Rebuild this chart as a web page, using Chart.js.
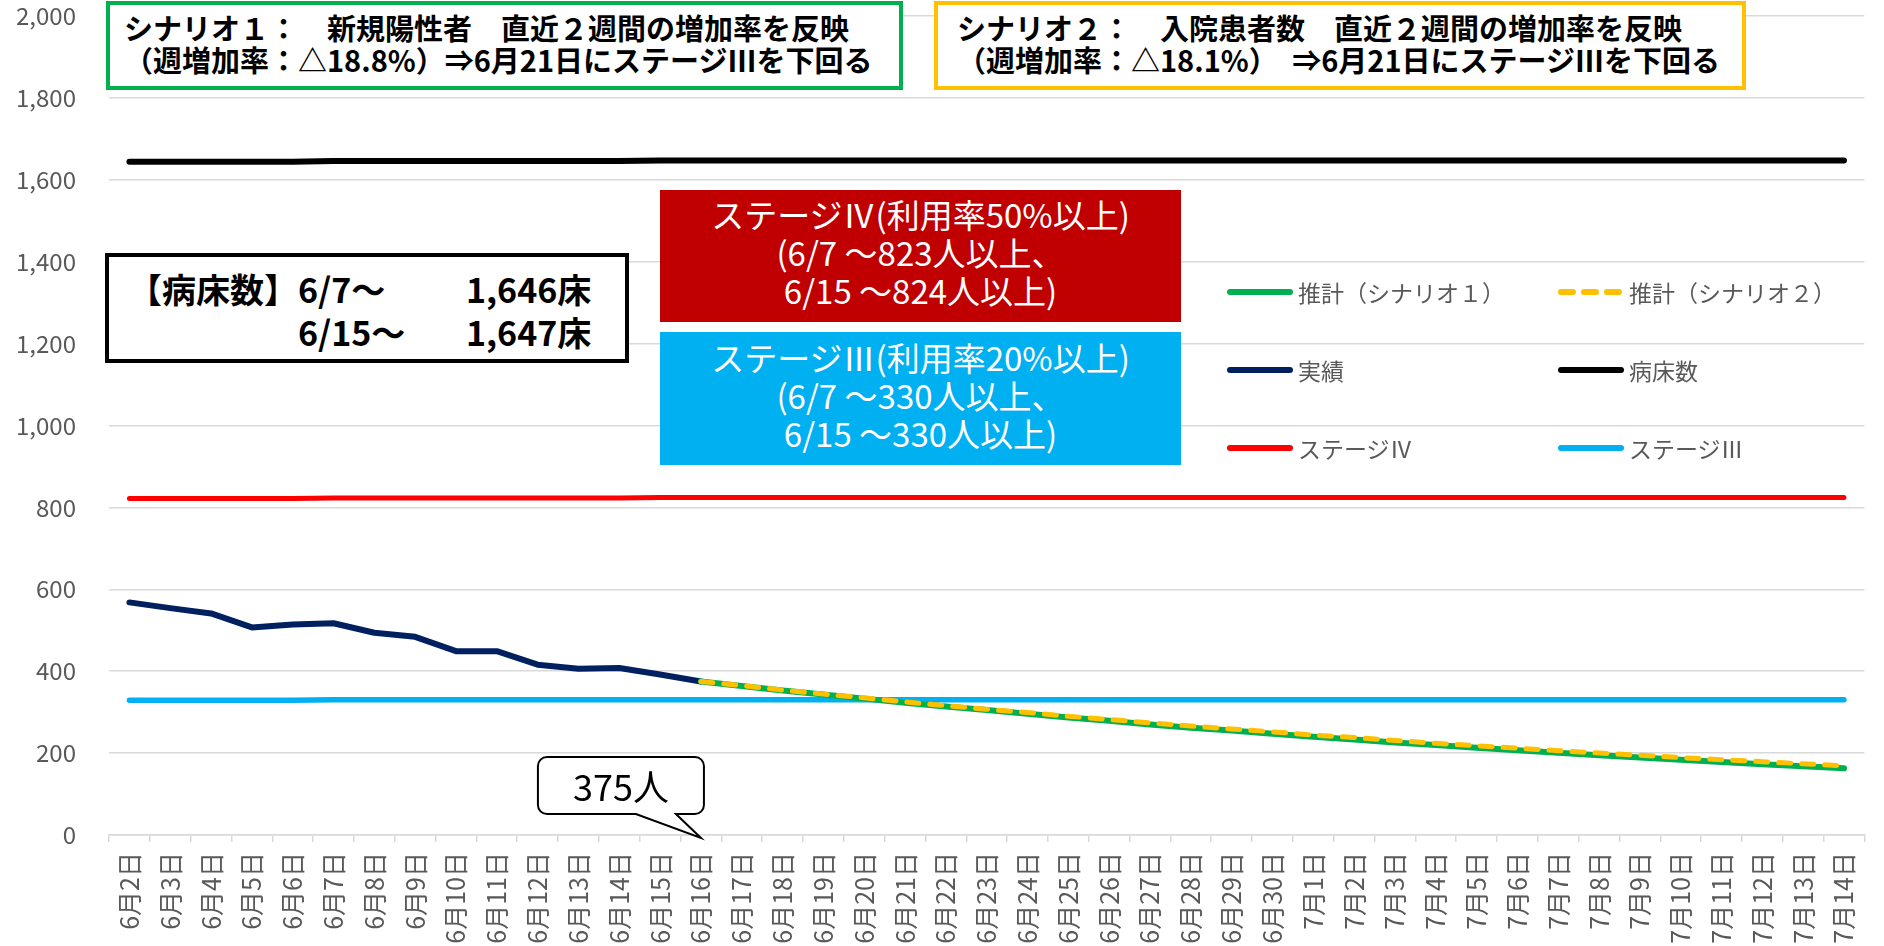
<!DOCTYPE html>
<html>
<head>
<meta charset="utf-8">
<script src="https://cdn.jsdelivr.net/npm/chart.js@4.4.1/dist/chart.umd.min.js"></script>
<style>
html,body{margin:0;padding:0;background:#fff;}
#wrap{position:relative;width:1884px;height:946px;overflow:hidden;background:#fff;}
#c{position:absolute;left:0;top:0;}
.ov{position:absolute;box-sizing:border-box;font-family:"Noto Sans CJK JP","Noto Sans",sans-serif;white-space:nowrap;}
.scen{border-width:4px;border-style:solid;background:#fff;font-weight:700;font-size:29px;line-height:32px;color:#000;}
.stage{color:#fff;font-size:33px;line-height:38px;text-align:center;}
#beds{left:105px;top:253px;width:524px;height:110px;border:4px solid #000;background:#fff;font-weight:700;font-size:34px;color:#000;}
#beds span{position:absolute;line-height:43px;}
#legend{position:absolute;left:0;top:0;}
.lg{position:absolute;font-family:"Noto Sans CJK JP","Noto Sans",sans-serif;font-size:23px;color:#595959;white-space:nowrap;line-height:30px;}
.lg svg{position:absolute;}
#callout{font-size:36px;color:#000;text-align:center;line-height:57px;}
</style>
</head>
<body>
<div id="wrap">
<canvas id="c" width="1884" height="946"></canvas>

<div class="ov scen" style="left:106px;top:1px;width:797px;height:89px;border-color:#00b050;padding:6px 0 0 14px;">シナリオ１：　新規陽性者　直近２週間の増加率を反映<br>（週増加率：△18.8%）⇒6月21日にステージⅢを下回る</div>

<div class="ov scen" style="left:934px;top:1px;width:812px;height:89px;border-color:#ffc000;padding:6px 0 0 19px;">シナリオ２：　入院患者数　直近２週間の増加率を反映<br>（週増加率：△18.1%）　⇒6月21日にステージⅢを下回る</div>

<div class="ov" id="beds">
<span style="left:19px;top:10px;">【病床数】</span>
<span style="left:189px;top:10px;">6/7～</span>
<span style="left:357px;top:10px;">1,646床</span>
<span style="left:189px;top:53px;">6/15～</span>
<span style="left:357px;top:53px;">1,647床</span>
</div>

<div class="ov stage" style="left:660px;top:190px;width:521px;height:132px;background:#c00000;padding-top:5px;">ステージⅣ(利用率50%以上)<br>(6/7 ～823人以上、<br>6/15 ～824人以上)</div>

<div class="ov stage" style="left:660px;top:332px;width:521px;height:133px;background:#00b0f0;padding-top:6px;">ステージⅢ(利用率20%以上)<br>(6/7 ～330人以上、<br>6/15 ～330人以上)</div>

<div id="legend"></div>
<div class="ov" id="callout">375人</div>
</div>

<script>
const categories = ["6月2日","6月3日","6月4日","6月5日","6月6日","6月7日","6月8日","6月9日","6月10日","6月11日","6月12日","6月13日","6月14日","6月15日","6月16日","6月17日","6月18日","6月19日","6月20日","6月21日","6月22日","6月23日","6月24日","6月25日","6月26日","6月27日","6月28日","6月29日","6月30日","7月1日","7月2日","7月3日","7月4日","7月5日","7月6日","7月7日","7月8日","7月9日","7月10日","7月11日","7月12日","7月13日","7月14日"];

// 実績 (6/2 - 6/16)
const actualValues = [568,554,541,507,514,517,494,484,449,449,416,406,408,392,375];
// 推計 (6/16 - 7/14)
const scenario1Values = [375,364,353,343,333,323,314,305,296,287,279,270,262,255,247,240,233,226,220,213,207,201,195,189,184,178,173,168,163];
const scenario2Values = [375,365,354,344,335,325,316,307,299,290,282,274,266,259,252,244,238,231,224,218,212,206,200,195,189,184,179,174,169];
// 病床数 / ステージ
const bedValues = [1644,1644,1644,1644,1644,1646,1646,1646,1646,1646,1646,1646,1646,1647,1647,1647,1647,1647,1647,1647,1647,1647,1647,1647,1647,1647,1647,1647,1647,1647,1647,1647,1647,1647,1647,1647,1647,1647,1647,1647,1647,1647,1647];
const stage4Values = [822,822,822,822,822,823,823,823,823,823,823,823,823,824,824,824,824,824,824,824,824,824,824,824,824,824,824,824,824,824,824,824,824,824,824,824,824,824,824,824,824,824,824];
const stage3Values = [329,329,329,329,329,330,330,330,330,330,330,330,330,330,330,330,330,330,330,330,330,330,330,330,330,330,330,330,330,330,330,330,330,330,330,330,330,330,330,330,330,330,330];
const yTicks = [0,200,400,600,800,1000,1200,1400,1600,1800,2000];

const actualStart = 0;
const projStart = categories.indexOf("6月16日");
const toPts = (vals, start) => vals.map((v, i) => ({x: categories[start + i], y: v}));

const FONT = '"Noto Sans CJK JP","Noto Sans",sans-serif';

const datasets = [
  {label:"推計（シナリオ２）", data: toPts(scenario2Values, projStart), borderColor:"#ffc000", borderWidth:5, borderDash:[12,11], borderCapStyle:"round", order:0},
  {label:"推計（シナリオ１）", data: toPts(scenario1Values, projStart), borderColor:"#00b050", borderWidth:6, borderCapStyle:"round", order:1},
  {label:"実績", data: toPts(actualValues, actualStart), borderColor:"#002060", borderWidth:6, borderCapStyle:"round", order:2},
  {label:"病床数", data: bedValues, borderColor:"#000000", borderWidth:6, borderCapStyle:"round", order:3},
  {label:"ステージⅣ", data: stage4Values, borderColor:"#ff0000", borderWidth:5, borderCapStyle:"round", order:4},
  {label:"ステージⅢ", data: stage3Values, borderColor:"#00b0f0", borderWidth:5.5, borderCapStyle:"round", order:5}
];
datasets.forEach(d => { d.pointRadius = 0; d.pointHoverRadius = 0; d.tension = 0; d.fill = false; d.borderJoinStyle = "round"; d.backgroundColor = d.borderColor; });

const calloutPlugin = {
  id: "callout",
  afterDatasetsDraw(chart) {
    const ctx = chart.ctx;
    const tx = chart.scales.x.getPixelForValue(projStart);
    const ty = chart.scales.y.getPixelForValue(0) + 3;
    const L = tx - 163, R = tx + 3, T = ty - 81, B = ty - 24, r = 9;
    const p1 = tx - 65, p2 = tx - 25;
    ctx.save();
    ctx.beginPath();
    ctx.moveTo(L + r, T);
    ctx.lineTo(R - r, T);
    ctx.arcTo(R, T, R, T + r, r);
    ctx.lineTo(R, B - r);
    ctx.arcTo(R, B, R - r, B, r);
    ctx.lineTo(p2, B);
    ctx.lineTo(tx, ty);
    ctx.lineTo(p1, B);
    ctx.lineTo(L + r, B);
    ctx.arcTo(L, B, L, B - r, r);
    ctx.lineTo(L, T + r);
    ctx.arcTo(L, T, L + r, T, r);
    ctx.closePath();
    ctx.fillStyle = "#fff";
    ctx.fill();
    ctx.lineWidth = 2;
    ctx.strokeStyle = "#000";
    ctx.stroke();
    ctx.restore();
    const el = document.getElementById("callout");
    el.style.left = L + "px"; el.style.top = T + "px";
    el.style.width = (R - L) + "px"; el.style.height = (B - T) + "px";
  }
};

const chart = new Chart(document.getElementById("c"), {
  type: "line",
  data: { labels: categories, datasets },
  options: {
    responsive: false,
    animation: false,
    devicePixelRatio: 1,
    layout: { padding: { top: 16, right: 4, left: 0, bottom: 0 } },
    plugins: { legend: { display: false }, tooltip: { enabled: false } },
    scales: {
      x: {
        type: "category",
        offset: true,
        grid: { drawOnChartArea: false, color: "#d9d9d9", lineWidth: 1.5, tickLength: 7, offset: true },
        border: { color: "#d9d9d9", width: 1.5 },
        ticks: { autoSkip: false, minRotation: 90, maxRotation: 90, padding: 10, color: "#595959", font: { family: FONT, size: 25 } },
        afterFit(s) { s.height = 111; }
      },
      y: {
        min: 0, max: 2000,
        afterBuildTicks(s) { s.ticks = yTicks.map(v => ({ value: v })); },
        grid: { color: "#d9d9d9", lineWidth: 1.5, drawTicks: true, tickLength: 33, tickColor: "rgba(0,0,0,0)" },
        border: { display: false },
        ticks: { padding: 0, color: "#595959", font: { family: FONT, size: 24 }, callback: v => v.toLocaleString("en-US") },
        afterFit(s) { s.width = 109; }
      }
    }
  },
  plugins: [calloutPlugin]
});

// legend built from datasets
const legendOrder = ["推計（シナリオ１）","推計（シナリオ２）","実績","病床数","ステージⅣ","ステージⅢ"];
const legendPos = [[1226,292],[1557,292],[1226,370],[1557,370],[1226,448],[1557,448]];
const lgEl = document.getElementById("legend");
legendOrder.forEach((name, i) => {
  const ds = datasets.find(d => d.label === name);
  const [x, y] = legendPos[i];
  const item = document.createElement("div");
  item.className = "lg";
  item.style.left = x + "px";
  item.style.top = (y - 15) + "px";
  item.style.paddingLeft = "72px";
  const dash = ds.borderDash ? ds.borderDash.join(",") : "none";
  item.innerHTML = '<svg width="70" height="10" style="left:0;top:10px"><line x1="4" y1="5" x2="64" y2="5" stroke="' + ds.borderColor + '" stroke-width="6" stroke-linecap="round" stroke-dasharray="' + dash + '"/></svg>' + name;
  lgEl.appendChild(item);
});
</script>
</body>
</html>
